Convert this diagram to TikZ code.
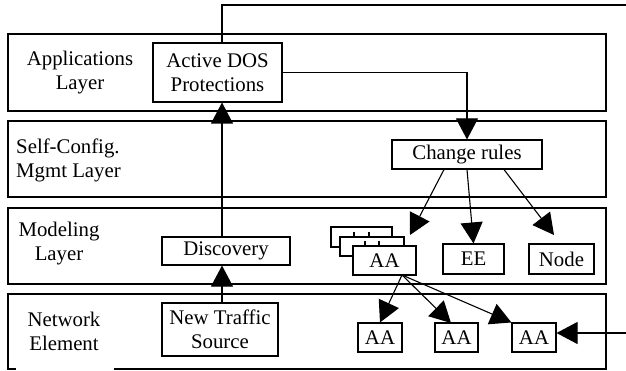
\documentclass[tikz,border=0pt]{standalone}
\usepackage{fontspec}
\setmainfont{Liberation Serif}
\usetikzlibrary{arrows.meta}
\begin{document}
\begin{tikzpicture}[x=1pt,y=-1pt,
  every node/.style={font=\fontsize{20.8}{24}\selectfont},
  layerbox/.style={draw,line width=1.1pt,minimum width=598pt,inner sep=0pt},
  box/.style={draw,line width=1.1pt,fill=white,inner sep=0pt,align=center},
  lbl/.style={inner sep=0pt,align=center},
  conn/.style={line width=1.1pt},
  arr/.style={line width=1.1pt,-{Triangle[width=22pt,length=21pt]}}]
\useasboundingbox (0,0) rectangle (626,371);
% layers
\node[layerbox,minimum height=77pt] (app) at (307,72.5) {};
\node[layerbox,minimum height=76pt] (self) at (307,159) {};
\node[layerbox,minimum height=76pt] (model) at (307,246) {};
\node[layerbox,minimum height=75pt] (net) at (307,331.5) {};
\fill[white] (16,366) rectangle (114,371);
% layer labels
\node[lbl] (applbl) at (80,73) {Applications\\Layer};
\node[lbl,align=left,anchor=west] (selflbl) at (16,160) {Self-Config.\\Mgmt Layer};
\node[lbl] (modlbl) at (59,244) {Modeling\\Layer};
\node[lbl] (netlbl) at (64,331) {Network\\Element};
% boxes
\node[box,minimum width=129pt,minimum height=59pt] (dos) at (217.5,72.5) {Active DOS\\Protections};
\node[box,minimum width=150pt,minimum height=29pt] (rules) at (467,154.5) {Change rules};
\node[box,minimum width=128pt,minimum height=28pt] (disc) at (226,251) {Discovery};
\node[box,minimum width=116pt,minimum height=53pt] (nts) at (220,329.5) {New Traffic\\Source};
\node[box,minimum width=61pt,minimum height=20pt] (aaback) at (361.5,237) {};
\draw[conn] (354,232) -- (354,237) (369,232) -- (369,237);
\node[box,minimum width=64pt,minimum height=19pt] (aamid) at (372,246.5) {};
\draw[conn] (365,241) -- (365,246) (379,241) -- (379,246);
\node[box,minimum width=63pt,minimum height=29pt] (aa) at (384.5,260.5) {AA};
\node[box,minimum width=61pt,minimum height=30pt] (ee) at (473.5,259) {EE};
\node[box,minimum width=65pt,minimum height=30pt] (node) at (561.5,259) {Node};
\node[box,minimum width=44pt,minimum height=29pt] (aa1) at (380,337.5) {AA};
\node[box,minimum width=43pt,minimum height=29pt] (aa2) at (456.5,337.5) {AA};
\node[box,minimum width=44pt,minimum height=29pt] (aa3) at (534,337.5) {AA};
% connectors
\coordinate (topR) at (626,5);
\coordinate (sideR) at (626,333);
\draw[conn] (dos.north -| 222,0) |- (topR);
\draw[arr] (dos.east) -| (rules.north);
\draw[arr] (disc.north -| 222,0) -- (dos.south -| 222,0);
\draw[arr] (nts.north -| 222,0) -- (disc.south -| 222,0);
\coordinate (tAA) at (410,235);
\coordinate (tNode) at (554,235);
\draw[arr] (rules.south -| 444,0) -- (tAA);
\draw[arr] (rules.south) -- (ee.north);
\draw[arr] (rules.south -| 504,0) -- (tNode);
\coordinate (aabot) at (402,275);
\coordinate (t2) at (451,323);
\draw[arr] (aabot) -- (aa1.north);
\draw[arr] (aabot) -- (t2);
\draw[arr] (aabot) -- (aa3.north west);
\draw[arr] (sideR) -- (aa3.east |- sideR);
\end{tikzpicture}
\end{document}
